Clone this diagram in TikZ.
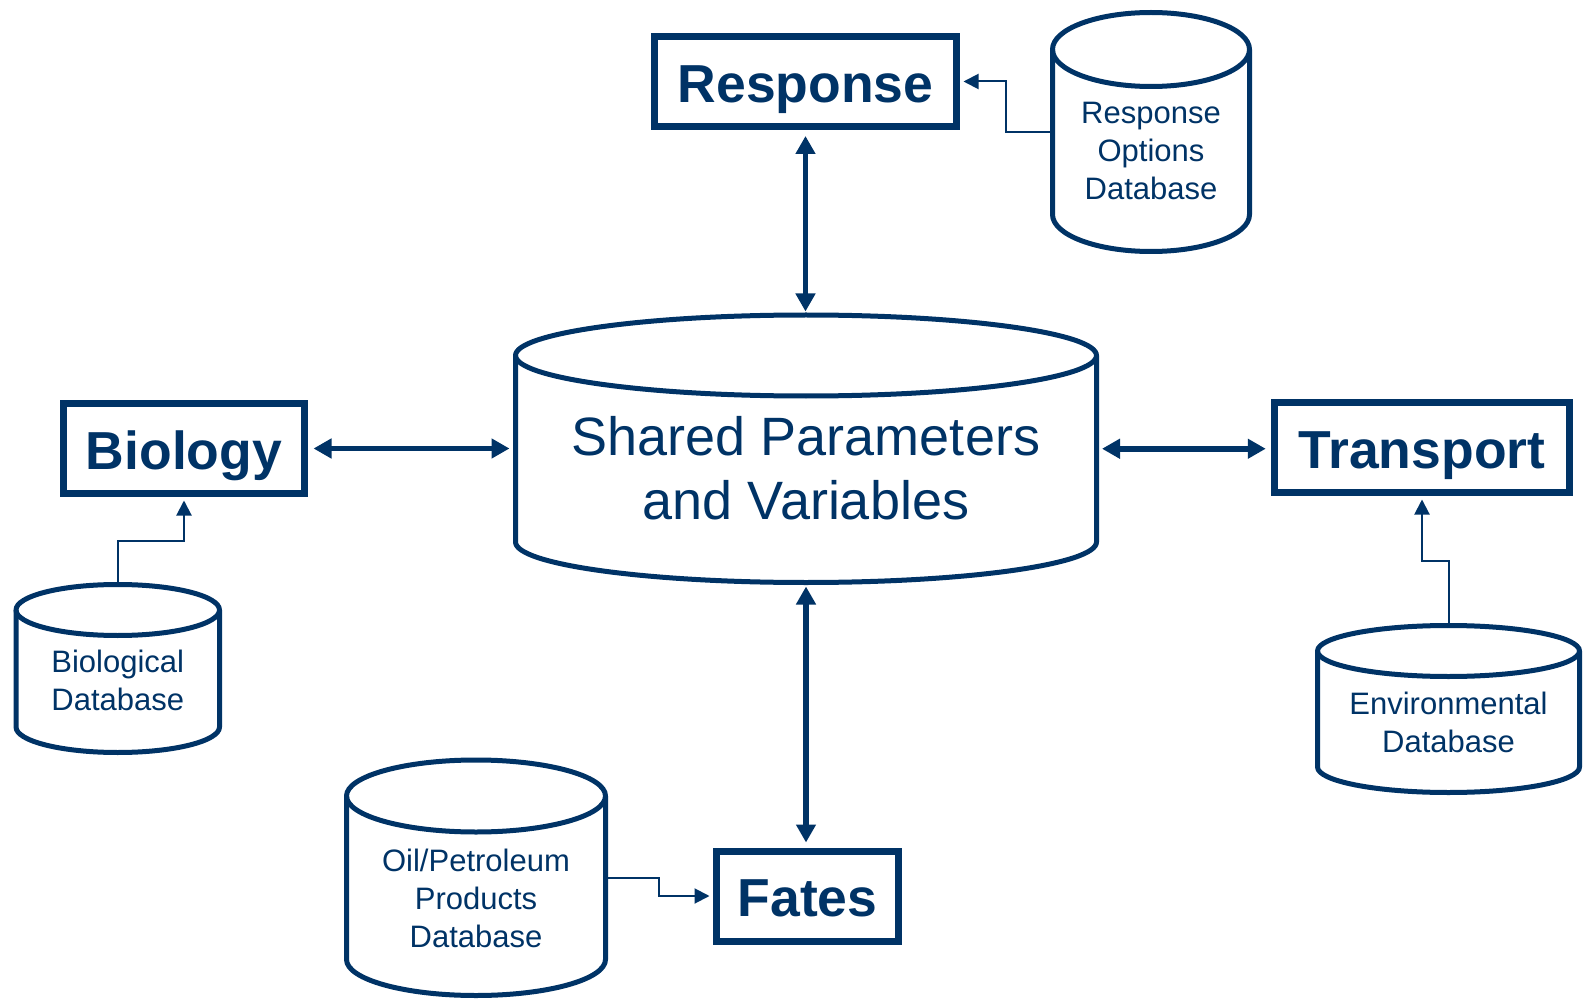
\documentclass[tikz,border=0pt]{standalone}
\usepackage{fontspec}
\setmainfont{Liberation Sans}
\usetikzlibrary{arrows.meta,calc}
\definecolor{navy}{HTML}{003366}

\tikzset{
  module/.style={draw=navy, line width=7pt, inner sep=0pt, text=navy,
    font=\fontsize{53.5}{64}\selectfont\bfseries,
    text height=41.5pt, text depth=0pt, minimum height=90pt},
  store/.style={inner sep=0pt, outer sep=0pt},
  can/.style={draw=navy, line width=5pt, line join=round},
  dblabel/.style={text=navy, align=center, inner sep=0pt,
    font=\fontsize{31}{38}\selectfont},
  mainlabel/.style={text=navy, align=center, inner sep=0pt,
    font=\fontsize{54}{64}\selectfont},
  link/.style={navy, line width=5.5pt,
    {Triangle[length=18pt,width=19pt]}-{Triangle[length=18pt,width=19pt]}},
  feed/.style={navy, line width=2pt, -{Triangle[length=15pt,width=15pt]},
    shorten >=3.5pt},
}

% Database can: name, centre x, top y, bottom y, half width, half height of the end ellipses
\newcommand\canshape[6]{%
  \node[store, minimum width={2*(#5)}, minimum height={(#3)-(#4)}]
    (#1) at (#2,{((#3)+(#4))/2}) {};
  \draw[can] (#2,{(#3)-(#6)}) ellipse[x radius=#5, y radius=#6];
  \draw[can] ({(#2)-(#5)},{(#3)-(#6)}) -- ({(#2)-(#5)},{(#4)+(#6)})
    arc[start angle=180, end angle=360, x radius=#5, y radius=#6]
    -- ({(#2)+(#5)},{(#3)-(#6)});
}

\begin{document}
\begin{tikzpicture}[x=1pt, y=1pt]
  \path[fill=white] (0,0) rectangle (1583,-1000);
  \useasboundingbox (0,0) rectangle (1583,-1000);

  % model components
  \node[module, minimum width=302pt] (resp) at (805.5,-81.5) {Response};
  \node[module, minimum width=241pt] (bio) at (184,-448.5) {Biology};
  \node[module, minimum width=295.5pt] (trans) at (1422,-447.5) {Transport};
  \node[module, minimum width=182pt] (fates) at (807.5,-896) {Fates};

  % databases
  \canshape{sp}{806}{-315}{-582.5}{290.5}{40.5}
  \node[mainlabel] (sp-text) at (806,-468) {Shared Parameters\\and Variables};

  \canshape{ro}{1151}{-12.5}{-251.5}{98.5}{37}
  \node[dblabel] (ro-text) at (1151,-150.5) {Response\\Options\\Database};

  \canshape{bdb}{117.75}{-584.5}{-752.5}{101.75}{25.5}
  \node[dblabel] (bdb-text) at (117.75,-680) {Biological\\Database};

  \canshape{edb}{1448.5}{-625.5}{-792.5}{131}{25.5}
  \node[dblabel] (edb-text) at (1448.5,-722) {Environmental\\Database};

  \canshape{odb}{476}{-760}{-995.5}{129.5}{36}
  \node[dblabel] (odb-text) at (476,-898) {Oil/Petroleum\\Products\\Database};

  % exchanges with the shared store
  \draw[link, shorten <=6pt, shorten >=3.5pt] (resp.south) -- (resp.south |- sp.north);
  \draw[link, shorten <=5.5pt, shorten >=6pt] (bio.east) -- (bio.east -| sp.west);
  \draw[link, shorten <=5.5pt, shorten >=5pt] (sp.east) -- (sp.east -| trans.west);
  \draw[link, shorten <=4pt, shorten >=5pt] (sp.south) -- (sp.south |- fates.north);

  % database feeds
  \draw[feed] (ro.west) -| ($(ro.west)!0.5!(resp.east)$) |- (resp.east);
  \draw[feed] (bdb.north) |- ($(bdb.north)!0.5!(bio.south)$) -| (bio.south);
  \draw[feed] (edb.north) |- ($(edb.north)!0.5!(trans.south)$) -| (trans.south);
  \draw[feed] (odb.east) -| ($(odb.east)!0.5!(fates.west)$) |- (fates.west);
\end{tikzpicture}
\end{document}
